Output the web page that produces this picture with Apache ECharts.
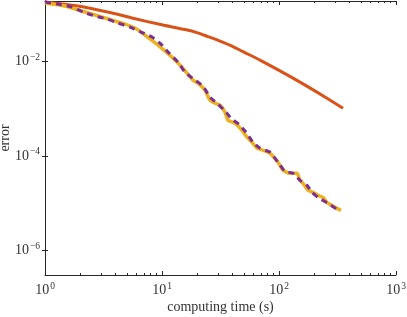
<!DOCTYPE html>
<html>
<head>
<meta charset="utf-8">
<script src="https://cdn.jsdelivr.net/npm/echarts@6/dist/echarts.min.js"></script>
<style>
html,body{margin:0;padding:0;background:#fff;}
#chart{width:407px;height:317px;}
</style>
</head>
<body>
<div id="chart"></div>
<script>
// ---- data (time in s, error) ----
const redTime = [1, 1.915, 3.738, 5.541, 10.20, 15.73, 19.91, 24.73, 31.31, 39.65, 49.24, 68.8, 131.7, 257.2, 352.4];
const redError = [0.180, 0.148, 0.1055, 0.0827, 0.0587, 0.0472, 0.0407, 0.0335, 0.0269, 0.0211, 0.0161, 0.01065, 0.00443, 0.00167, 0.00102];

const yellowTime = [1, 1.482, 2.197, 3.257, 4.829, 5.878, 7.155, 9.243, 12.18, 14.82, 16.36, 18.41, 20.31, 23.31, 25.72, 28.38, 31.31, 34.55, 36.65, 42.06, 48.30, 53.27, 58.78, 64.86, 72.98, 83.81, 98.06, 108.2, 124.2, 142.5, 151.1, 160.4, 177.0, 195.3, 215.4, 237.8, 257.2, 283.8, 313.1, 338.8];
const yellowError = [0.1718, 0.1484, 0.1108, 0.0827, 0.0617, 0.0507, 0.0361, 0.0221, 0.0123, 0.00757, 0.00565, 0.00402, 0.00347, 0.00246, 0.00151, 0.00131, 0.00119, 0.000843, 0.000571, 0.000493, 0.000350, 0.000249, 0.000195, 0.000146, 0.000132, 0.000114, 0.0000735, 0.0000498, 0.0000430, 0.0000430, 0.0000306, 0.0000264, 0.0000188, 0.0000170, 0.0000147, 0.0000133, 0.0000104, 0.00000903, 0.00000779, 0.00000707];

const purpleTime = [1, 1.291, 1.701, 2.112, 2.675, 3.388, 4.207, 5.328, 6.614, 8.215, 9.806, 11.48, 13.70, 15.73, 19.15, 22.41, 25.72, 30.10, 35.24, 39.65, 45.51, 52.23, 59.95, 68.80, 83.81, 98.06, 112.5, 131.7, 151.1, 173.5, 191.5, 215.4, 262.3, 313.1];
const purpleError = [0.1804, 0.1637, 0.1414, 0.1108, 0.0911, 0.0787, 0.0648, 0.0533, 0.0418, 0.0327, 0.0233, 0.0150, 0.00967, 0.00593, 0.00402, 0.00300, 0.00175, 0.00125, 0.000843, 0.000599, 0.000469, 0.000318, 0.000195, 0.000146, 0.000120, 0.0000735, 0.0000474, 0.0000430, 0.0000306, 0.0000239, 0.0000170, 0.0000133, 0.00000995, 0.00000742];

// axis ranges and tick exponents (decades)
const xRange = [1, 1000];
const yRange = [3.04e-7, 0.1895];
const xMajorExp = [0, 1, 2, 3];
const yMajorExp = [-6, -4, -2];
const xTitle = 'computing time (s)';
const yTitle = 'error';

// ---- build ----
const L = Math.log10;
const toPts = (t, e) => t.map((v, i) => [L(v), L(e[i])]);
const xMinor = [];
for (let n = 0; n < 3; n++) for (let k = 2; k <= 9; k++) xMinor.push(L(k * Math.pow(10, n)));

const FONT = '"Liberation Serif", "DejaVu Serif", serif';
const AX = '#262626';
const richLabel = {
  b: { fontFamily: FONT, fontSize: 14, color: '#333', lineHeight: 18 },
  s: { fontFamily: FONT, fontSize: 9.5, color: '#333', verticalAlign: 'top', lineHeight: 9, padding: [0, 0, 0, 1] }
};
const fmt = v => '{b|10}{s|' + String(Math.round(v)).replace('-', '\u2212') + '}';

const xMin = L(xRange[0]), xMax = L(xRange[1]);
const yMin = L(yRange[0]), yMax = L(yRange[1]);

function xAx(pos, minor, labels, lineShow) {
  return {
    type: 'value', position: pos, min: xMin, max: xMax, gridIndex: 0,
    axisLine: { show: lineShow, lineStyle: { color: AX, width: 1 } },
    axisTick: { show: true, inside: true, length: minor ? 2 : 4, customValues: minor ? xMinor : xMajorExp, lineStyle: { color: AX, width: 1 } },
    axisLabel: labels ? { show: true, customValues: xMajorExp, formatter: fmt, rich: richLabel, margin: 6 } : { show: false },
    splitLine: { show: false },
    name: labels ? xTitle : '', nameLocation: 'middle', nameGap: 25, nameMoveOverlap: false,
    nameTextStyle: { fontFamily: FONT, fontSize: 14, color: '#333' }
  };
}
function yAx(pos, labels) {
  return {
    type: 'value', position: pos, min: yMin, max: yMax, gridIndex: 0,
    axisLine: { show: true, lineStyle: { color: AX, width: 1 } },
    axisTick: { show: true, inside: true, length: 3, customValues: yMajorExp, lineStyle: { color: AX, width: 1 } },
    axisLabel: labels ? { show: true, customValues: yMajorExp, formatter: fmt, rich: richLabel, margin: 5 } : { show: false },
    splitLine: { show: false },
    name: labels ? yTitle : '', nameLocation: 'middle', nameGap: 33, nameRotate: 90, nameMoveOverlap: false,
    nameTextStyle: { fontFamily: FONT, fontSize: 14, color: '#333' }
  };
}

const chart = echarts.init(document.getElementById('chart'), null, { renderer: 'canvas' });
chart.setOption({
  animation: false,
  backgroundColor: '#fff',
  grid: { left: 45, right: 11, top: 1, bottom: 42, containLabel: false, outerBoundsMode: 'none' },
  xAxis: [xAx('bottom', false, true, true), xAx('bottom', true, false, false), xAx('top', false, false, true), xAx('top', true, false, false)],
  yAxis: [yAx('left', true), yAx('right', false)],
  series: [
    { type: 'line', data: toPts(redTime, redError), showSymbol: false, symbol: 'none', smooth: 0.3,
      lineStyle: { color: '#D95319', width: 3 }, z: 3 },
    { type: 'line', data: toPts(yellowTime, yellowError), showSymbol: false, symbol: 'none', smooth: 0.2,
      lineStyle: { color: '#EDB120', width: 3.5 }, z: 4 },
    { type: 'line', data: toPts(purpleTime, purpleError), showSymbol: false, symbol: 'none', smooth: 0.2,
      lineStyle: { color: '#7E2F8E', width: 3, type: [6, 5], cap: 'butt' }, z: 5 }
  ]
});
</script>
</body>
</html>
